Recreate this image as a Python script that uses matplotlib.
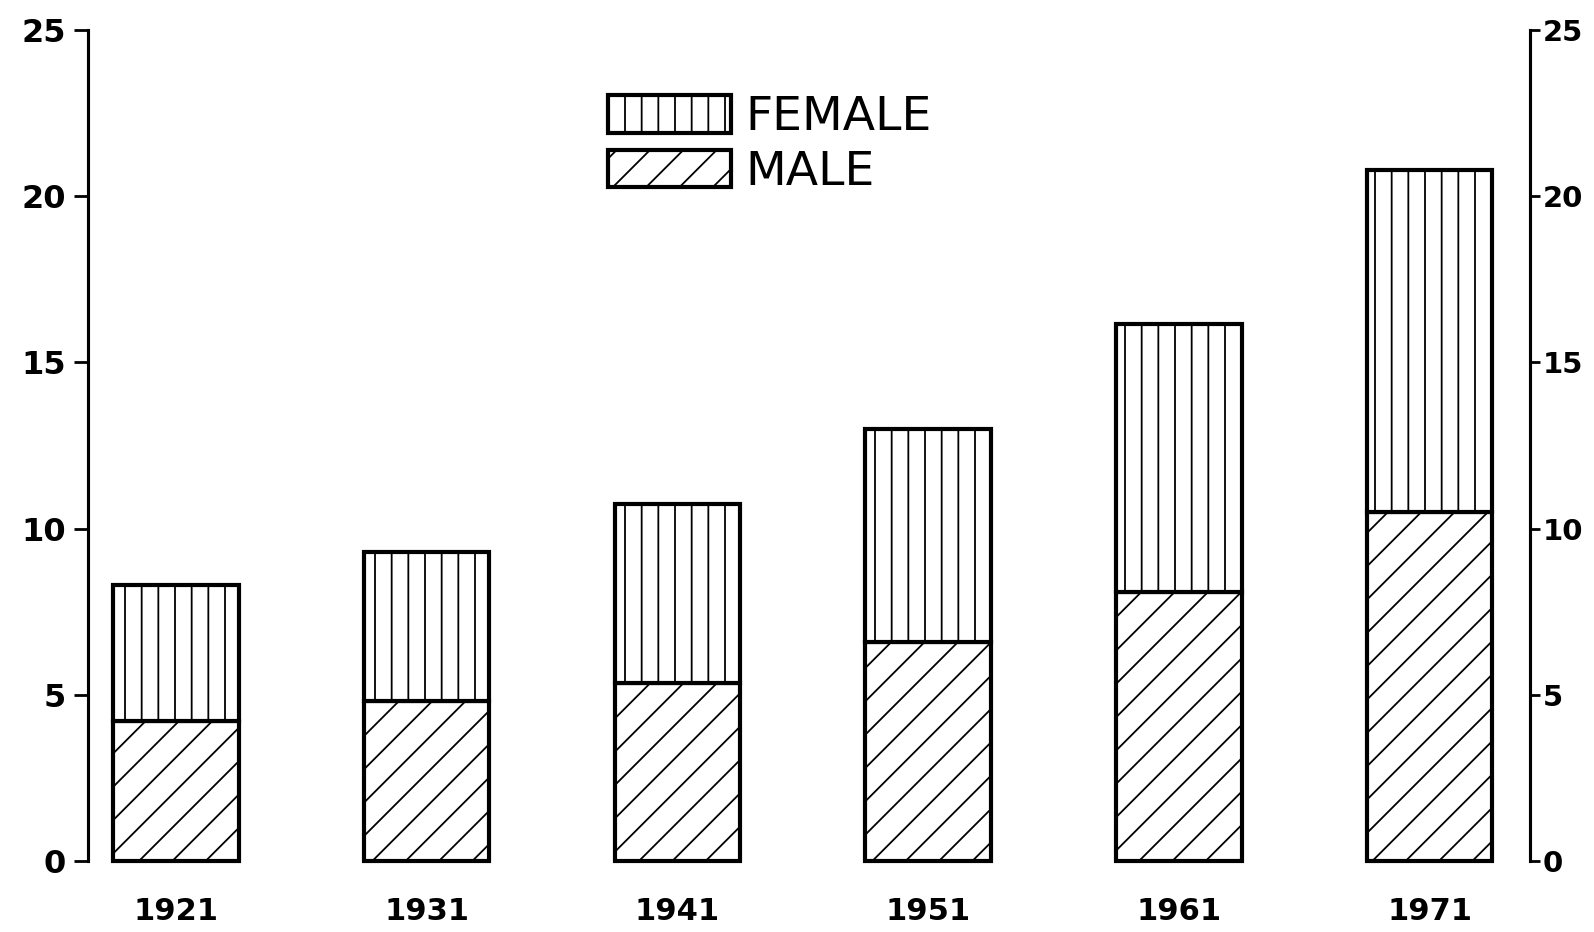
import matplotlib
matplotlib.use('Agg')
import matplotlib.pyplot as plt
from matplotlib.patches import Patch
import numpy as np

years = ['1921', '1931', '1941', '1951', '1961', '1971']
male = [4.2, 4.8, 5.35, 6.6, 8.1, 10.5]
total = [8.3, 9.3, 10.75, 13.0, 16.15, 20.8]
female = [t - m for t, m in zip(total, male)]
y_ticks = [0, 5, 10, 15, 20, 25]

plt.rcParams['hatch.linewidth'] = 1.3

fig = plt.figure(figsize=(15.94, 9.32), dpi=100)
ax = fig.add_axes([0.0552, 0.0762, 0.9046, 0.8916])

x = np.arange(len(years))
ax.bar(x, male, width=0.5, color='white', edgecolor='black', linewidth=3,
       hatch='/', clip_on=False, zorder=2)
ax.bar(x, female, bottom=male, width=0.5, color='white', edgecolor='black',
       linewidth=3, hatch='|', clip_on=False, zorder=2)

ax.set_xlim(-0.351, 5.40)
ax.set_ylim(0, 25)
ax.set_xticks(x)
ax.set_xticklabels(years, fontsize=22, fontweight='bold')
ax.tick_params(axis='x', length=0, pad=26)

ax.set_yticks(y_ticks)
ax.set_yticklabels([str(v) for v in y_ticks], fontsize=23, fontweight='bold')
ax.tick_params(axis='y', direction='out', length=10, width=2, pad=6)

# right hand scale, same values
ax2 = ax.twinx()
ax2.set_ylim(0, 25)
ax2.set_yticks(y_ticks)
ax2.set_yticklabels([str(v) for v in y_ticks], fontsize=21, fontweight='bold')
ax2.tick_params(axis='y', direction='out', length=7, width=2, pad=2)

for a in [ax, ax2]:
    for side in ['top', 'bottom']:
        a.spines[side].set_visible(False)
    for side in ['left', 'right']:
        a.spines[side].set_linewidth(2.2)

handles = [Patch(facecolor='white', edgecolor='black', linewidth=3, hatch='|', label='FEMALE'),
           Patch(facecolor='white', edgecolor='black', linewidth=3, hatch='/', label='MALE')]
ax.legend(handles=handles, loc='upper left', bbox_to_anchor=(608 / 1594, 1 - 95 / 932),
          bbox_transform=fig.transFigure, frameon=False, fontsize=34,
          handlelength=2.6, handleheight=0.85, handletextpad=0.3,
          borderpad=0, borderaxespad=0, labelspacing=0.2)

plt.savefig('out.png', dpi=100)
